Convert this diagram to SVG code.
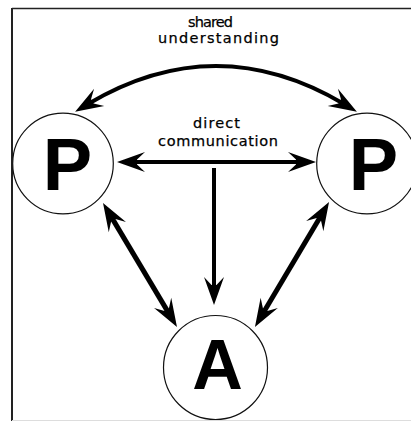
<svg xmlns="http://www.w3.org/2000/svg" width="411" height="421" viewBox="0 0 411 421">
<style>
.node circle{fill:#fff;stroke:#111;stroke-width:1.2}
.big{font-family:"Liberation Sans",Arial,sans-serif;font-weight:bold;fill:#000;text-anchor:middle}
.lbl{font-family:"DejaVu Sans",sans-serif;font-size:14.5px;fill:#000;stroke:#000;stroke-width:0.25}
#connectors path,#connectors line{fill:none;stroke:#000;stroke-linecap:butt}
</style>
<defs>
<marker id="ah" viewBox="-16 -12 34 24" markerWidth="34" markerHeight="24" refX="0" refY="0" markerUnits="userSpaceOnUse" orient="auto-start-reverse" overflow="visible">
<path d="M15,0 L-13,-10 L-5,-2.5 L-5,2.5 L-13,10 Z" fill="#000"/>
</marker>
</defs>
<rect x="0" y="0" width="411" height="421" fill="#fff"/>
<g id="frame" stroke="#222" fill="none">
<line x1="12" y1="8.5" x2="411" y2="8.5" stroke-width="1.5"/>
<line x1="12" y1="8" x2="12" y2="421" stroke-width="2"/>
<line x1="12" y1="420.5" x2="411" y2="420.5" stroke="#ddd" stroke-width="1"/>
</g>
<g id="labels">
<text class="lbl" x="188" y="27" textLength="45" lengthAdjust="spacing">shared</text>
<text class="lbl" x="158" y="43" textLength="121" lengthAdjust="spacing">understanding</text>
<text class="lbl" x="193" y="128" textLength="47" lengthAdjust="spacing">direct</text>
<text class="lbl" x="158" y="146" textLength="120" lengthAdjust="spacing">communication</text>
</g>
<g id="connectors">
<path d="M88,104 Q216,28 344,104" stroke-width="4" marker-start="url(#ah)" marker-end="url(#ah)"/>
<line x1="132" y1="162" x2="301" y2="162" stroke-width="4" marker-start="url(#ah)" marker-end="url(#ah)"/>
<line x1="214" y1="168" x2="214" y2="290" stroke-width="4" marker-end="url(#ah)"/>
<line x1="110.7" y1="215.9" x2="169.3" y2="314.1" stroke-width="5" marker-start="url(#ah)" marker-end="url(#ah)"/>
<line x1="321.4" y1="214.9" x2="262.6" y2="314.1" stroke-width="5" marker-start="url(#ah)" marker-end="url(#ah)"/>
</g>
<g id="P1" class="node">
<circle cx="63" cy="163.5" r="50.3"/>
<text class="big" x="67.5" y="190" font-size="74">P</text>
</g>
<g id="P2" class="node">
<circle cx="367" cy="163.5" r="50.3"/>
<text class="big" x="373.5" y="190" font-size="74">P</text>
</g>
<g id="A" class="node">
<circle cx="215.5" cy="367.5" r="52"/>
<text class="big" x="217.5" y="389" font-size="70">A</text>
</g>
</svg>
